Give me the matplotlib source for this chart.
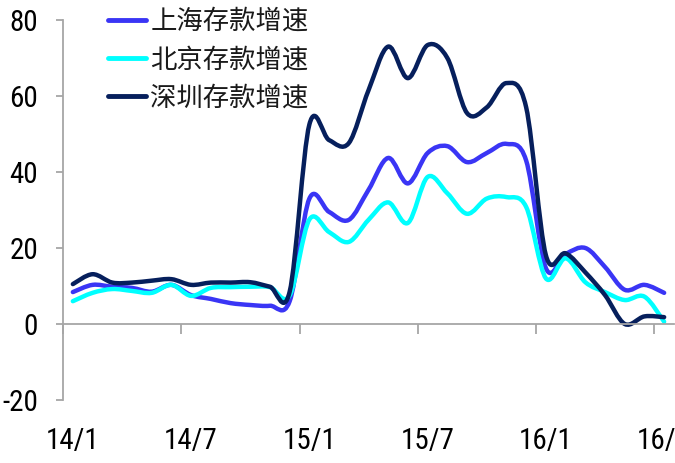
import numpy as np
import matplotlib.pyplot as plt
from matplotlib.path import Path
from matplotlib.patches import PathPatch
from matplotlib.lines import Line2D

# monthly deposit growth, 14/1 .. 16/7
months = ['14/1', '14/2', '14/3', '14/4', '14/5', '14/6', '14/7', '14/8', '14/9', '14/10', '14/11', '14/12',
          '15/1', '15/2', '15/3', '15/4', '15/5', '15/6', '15/7', '15/8', '15/9', '15/10', '15/11', '15/12',
          '16/1', '16/2', '16/3', '16/4', '16/5', '16/6', '16/7']
shanghai = [8.4, 10.3, 9.8, 9.5, 8.5, 10.3, 7.6, 6.6, 5.5, 5.0, 4.8, 6.0,
            33.0, 29.5, 27.4, 35.3, 43.7, 37.0, 45.0, 46.8, 42.6, 45.0, 47.4, 43.0,
            14.7, 18.4, 20.0, 15.0, 9.0, 10.3, 8.2]
beijing = [6.0, 8.2, 9.2, 8.7, 8.2, 10.3, 7.4, 9.5, 9.7, 9.8, 9.7, 7.5,
           27.5, 24.2, 21.6, 27.4, 32.0, 26.6, 38.7, 34.4, 29.0, 33.0, 33.4, 30.8,
           12.0, 17.3, 11.0, 8.4, 6.3, 7.2, 0.6]
shenzhen = [10.5, 13.1, 10.9, 10.9, 11.4, 11.8, 10.3, 10.9, 10.9, 11.0, 9.8, 8.5,
            52.5, 48.4, 47.6, 61.5, 73.0, 64.7, 73.4, 70.0, 55.5, 57.0, 63.4, 57.0,
            18.1, 18.6, 13.6, 7.6, 0.0, 2.0, 1.8]
series_names = ['上海存款增速', '北京存款增速', '深圳存款增速']
series_colors = ['#3a35f5', '#00ffff', '#061f5c']
tick_label_months = ['14/1', '14/7', '15/1', '15/7', '16/1', '16/7']
y_ticks = [-20, 0, 20, 40, 60, 80]

num_font = ['Roboto Condensed', 'Liberation Sans', 'DejaVu Sans']


def smooth_path(xs, ys):
    # excel-style smoothed line: cubic bezier segments through the points
    pts = np.column_stack([xs, ys]).astype(float)
    verts = [pts[0]]
    codes = [Path.MOVETO]
    n = len(pts)
    for i in range(n - 1):
        p0 = pts[i - 1] if i > 0 else pts[i]
        p1, p2 = pts[i], pts[i + 1]
        p3 = pts[i + 2] if i + 2 < n else pts[i + 1]
        verts += [p1 + (p2 - p0) / 6, p2 - (p3 - p1) / 6, p2]
        codes += [Path.CURVE4] * 3
    return Path(verts, codes)


fig = plt.figure(figsize=(6.75, 4.63), dpi=100)
ax = fig.add_axes([63 / 675, 63 / 463, 611 / 675, 380 / 463])

x = np.arange(len(months))
for vals, c in zip([shanghai, beijing, shenzhen], series_colors):
    ax.add_patch(PathPatch(smooth_path(x, vals), fill=False, edgecolor=c, lw=3.2,
                           capstyle='round', joinstyle='round'))

ax.set_xlim(-0.5, len(months) - 0.5)
ax.set_ylim(-20, 80)

for s in ['top', 'right']:
    ax.spines[s].set_visible(False)
ax.spines['bottom'].set_position(('data', 0))
for s in ['left', 'bottom']:
    ax.spines[s].set_color('#a6a6a6')
    ax.spines[s].set_linewidth(1.3)

ax.set_xticks(np.arange(-0.5, len(months), 6))
ax.set_xticklabels([])
ax.tick_params(axis='x', direction='out', length=7, width=1.3, color='#a6a6a6')
ax.set_yticks(y_ticks)
ax.set_yticklabels([str(v) for v in y_ticks], fontfamily=num_font, fontsize=21)
ax.tick_params(axis='y', direction='out', length=5, width=1.3, color='#a6a6a6', pad=13)

for lab in tick_label_months:
    ax.text(months.index(lab), -0.07, lab, transform=ax.get_xaxis_transform(),
            ha='center', va='top', fontfamily=num_font, fontsize=21)

handles = [Line2D([], [], color=c, lw=3.5, solid_capstyle='round') for c in series_colors]
fig.legend(handles, series_names, loc='upper left', bbox_to_anchor=(108 / 675, 1 - 8 / 463),
           frameon=False, borderpad=0, borderaxespad=0, handlelength=1.45, handletextpad=0.15,
           labelspacing=0.42, labelcolor='#1a1a1a',
           prop={'family': ['Noto Sans CJK SC', 'DejaVu Sans'], 'size': 19, 'weight': 'light'})

fig.savefig('out.png', dpi=100)
